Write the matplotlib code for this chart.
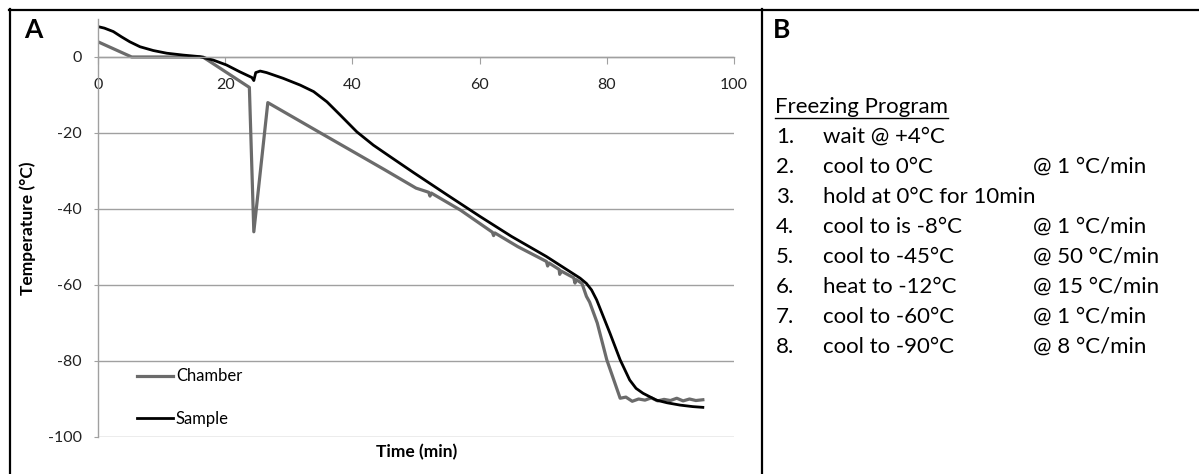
import matplotlib
matplotlib.use("Agg")
import matplotlib.pyplot as plt
from matplotlib.lines import Line2D

W, H = 1199, 474

# chamber temperature trace (min, degC)
chamber_t = [0, 5.3, 10, 16.5, 23.8, 24.5, 26.7, 35, 45, 50,
             52.0, 52.2, 52.4, 57, 62.0, 62.2, 62.4, 66, 70.5, 70.7,
             70.9, 72.5, 72.6, 72.8, 74.8, 75.0, 75.2, 76.1, 76.8, 77.3,
             78.5, 80.0, 81.0, 82.1, 83, 84, 85, 86, 87, 88,
             89, 90, 91, 92, 93, 94, 95.1]
chamber_T = [4, 0, 0, 0, -8, -46, -12, -20.0, -29.6, -34.5,
             -35.6, -36.6, -35.8, -40.3, -46.1, -47.0, -46.3, -49.9, -53.8, -55.0,
             -54.2, -55.9, -57.2, -56.3, -58.1, -59.5, -58.6, -59.6, -63.0, -64.5,
             -70.0, -79.7, -84.5, -89.8, -89.5, -90.6, -90.0, -90.3, -89.7, -90.5,
             -90.1, -90.4, -89.8, -90.5, -90.0, -90.4, -90.2]

# sample temperature trace (min, degC)
sample_t = [0, 1, 2.4, 3.7, 5.0, 6.6, 8.7, 10.8, 13.4, 16.0,
            18.1, 20.2, 22.3, 24.2, 24.5, 24.8, 25.5, 26.5, 29.1, 31.8,
            33.9, 36.0, 38.1, 40.7, 43.3, 46, 49.6, 55, 60.1, 65,
            70.5, 75.8, 76.8, 77.6, 78.4, 80.5, 82.1, 83.6, 84.6, 85.7,
            87.8, 89.5, 91.5, 93.5, 95.1]
sample_T = [8.0, 7.6, 6.7, 5.3, 4.0, 2.7, 1.7, 1.0, 0.5, 0.1,
            -0.8, -2.1, -3.9, -5.4, -6.2, -4.1, -3.7, -4.1, -5.6, -7.4,
            -9.1, -11.8, -15.3, -19.7, -23.2, -26.3, -30.4, -36.4, -42.0, -47.2,
            -52.5, -58.2, -59.6, -61.3, -63.9, -72.7, -79.7, -85.0, -87.2, -88.5,
            -90.3, -91.0, -91.6, -92.0, -92.2]

x_ticks = [0, 20, 40, 60, 80, 100]
y_ticks = [-100, -80, -60, -40, -20, 0]

program_steps = [
    ("1.", "wait @ +4°C", ""),
    ("2.", "cool to 0°C", "@ 1 °C/min"),
    ("3.", "hold at 0°C for 10min", ""),
    ("4.", "cool to is -8°C", "@ 1 °C/min"),
    ("5.", "cool to -45°C", "@ 50 °C/min"),
    ("6.", "heat to -12°C", "@ 15 °C/min"),
    ("7.", "cool to -60°C", "@ 1 °C/min"),
    ("8.", "cool to -90°C", "@ 8 °C/min"),
]

plt.rcParams["font.family"] = ["Lato", "DejaVu Sans"]

fig = plt.figure(figsize=(W / 100, H / 100), dpi=100)


def fx(px):
    return px / W


def fy(py):
    return 1 - py / H


# panel frame
fig.add_artist(Line2D([fx(9), fx(W)], [fy(9.5), fy(9.5)], color="black", lw=1.6))
fig.add_artist(Line2D([fx(9.5), fx(9.5)], [fy(9), 0], color="black", lw=1.6))
fig.add_artist(Line2D([fx(762), fx(762)], [fy(9), 0], color="black", lw=1.6))

ax = fig.add_axes([fx(98), fy(437), (734 - 98) / W, (437 - 19) / H])
grid_c = "#a0a0a0"
ax.set_xlim(0, 100)
ax.set_ylim(-100, 10)
ax.set_xticks(x_ticks)
ax.set_yticks(y_ticks)
ax.set_xticklabels([str(v) for v in x_ticks])
ax.set_yticklabels([str(v) for v in y_ticks])
ax.spines["top"].set_visible(False)
ax.spines["right"].set_visible(False)
ax.spines["bottom"].set_position(("data", 0))
for s in ("bottom", "left"):
    ax.spines[s].set_color(grid_c)
    ax.spines[s].set_linewidth(1.0)
ax.yaxis.grid(True, color=grid_c, lw=1.0)
ax.set_axisbelow(True)
ax.tick_params(axis="x", direction="out", length=5, color=grid_c, pad=10,
               labelsize=11.5, labelcolor="#222222")
ax.tick_params(axis="y", direction="out", length=3, color=grid_c, pad=8.5,
               labelsize=11.5, labelcolor="#222222")

ax.plot(chamber_t, chamber_T, color="#6b6b6b", lw=2.3, label="Chamber",
        solid_joinstyle="round")
ax.plot(sample_t, sample_T, color="black", lw=2.0, label="Sample",
        solid_joinstyle="round")

ax.legend(loc="center left", bbox_to_anchor=(0.061, 0.094), frameon=False,
          fontsize=12, handlelength=2.15, handletextpad=0.2,
          labelspacing=1.6, borderaxespad=0, borderpad=0)

fig.text(fx(417), fy(452), "Time (min)", ha="center", va="center",
         fontsize=12.5, fontweight="bold")
fig.text(fx(28), fy(228), "Temperature (°C)", ha="center", va="center",
         rotation=90, fontsize=12.5, fontweight="bold")

fig.text(fx(24), fy(30), "A", ha="left", va="center", fontsize=19,
         fontweight="bold")
fig.text(fx(773), fy(30), "B", ha="left", va="center", fontsize=19,
         fontweight="bold")

# freezing program listing
fs = 16
title = fig.text(fx(775), fy(107), "Freezing Program", ha="left",
                 va="center", fontsize=fs)
fig.canvas.draw()
bb = title.get_window_extent(fig.canvas.get_renderer())
fig.add_artist(Line2D([bb.x0 / W, bb.x1 / W], [fy(118), fy(118)],
                      color="black", lw=1.0))

for i, (num, step, rate) in enumerate(program_steps):
    y = fy(137 + i * 30)
    fig.text(fx(776), y, num, ha="left", va="center", fontsize=fs)
    fig.text(fx(823), y, step, ha="left", va="center", fontsize=fs)
    if rate:
        fig.text(fx(1033), y, rate, ha="left", va="center", fontsize=fs)

fig.savefig("out.png", dpi=100)
